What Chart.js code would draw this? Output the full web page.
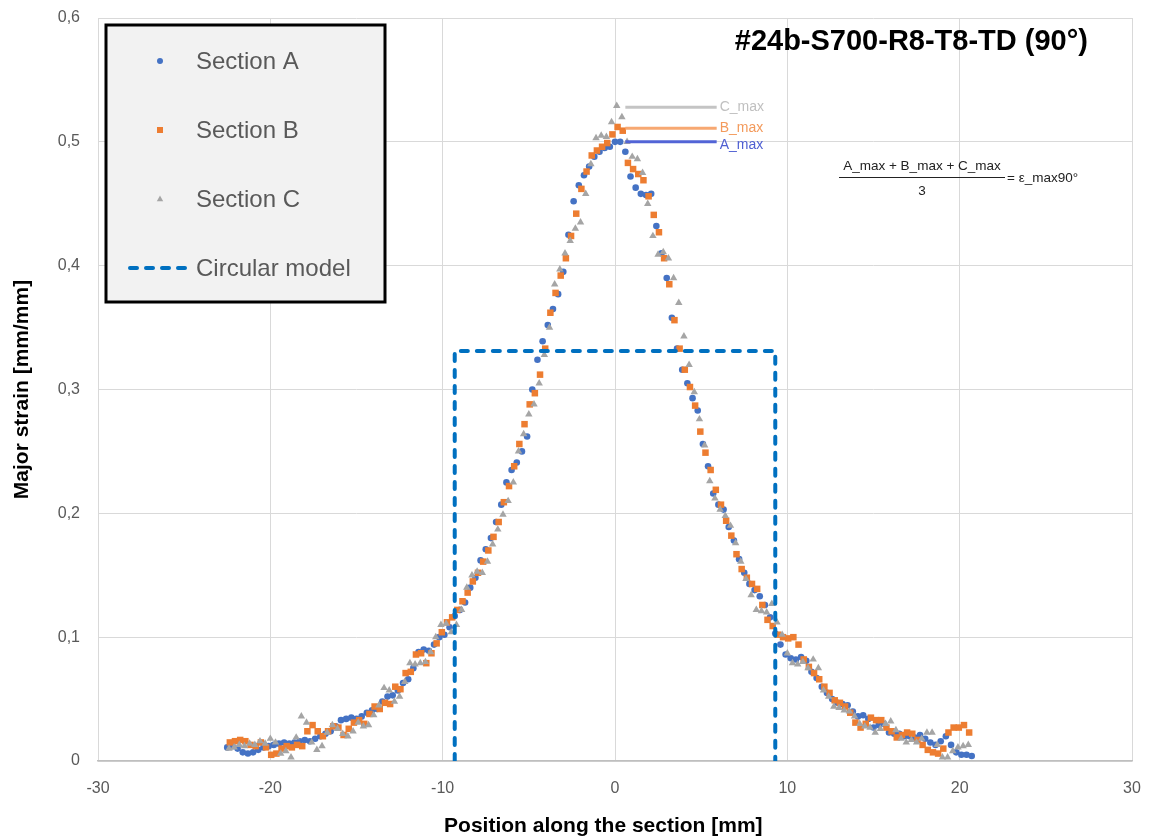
<!DOCTYPE html>
<html><head><meta charset="utf-8">
<script src="https://cdn.jsdelivr.net/npm/chart.js@4.4.1/dist/chart.umd.min.js"></script>
<style>html,body{margin:0;padding:0;background:#fff;}#wrap{width:1155px;height:839px;position:relative;}</style>
</head><body><div id="wrap"><canvas id="c"></canvas></div>
<script>
const chartTitle = '#24b-S700-R8-T8-TD (90°)';
const xTitle = 'Position along the section [mm]';
const yTitle = 'Major strain [mm/mm]';
const seriesNames = ['Section A', 'Section B', 'Section C', 'Circular model'];
const xTickValues = [-30, -20, -10, 0, 10, 20, 30];
const yTickValues = [0, 0.1, 0.2, 0.3, 0.4, 0.5, 0.6];

const posA = [-22.5,-22.2,-21.9,-21.6,-21.3,-21.0,-20.7,-20.4,-20.1,-19.8,-19.5,-19.2,-18.9,-18.6,-18.3,-18.0,-17.7,-17.4,-17.1,-16.8,-16.5,-16.2,-15.9,-15.6,-15.3,-15.0,-14.7,-14.4,-14.1,-13.8,-13.5,-13.2,-12.9,-12.6,-12.3,-12.0,-11.7,-11.4,-11.1,-10.8,-10.5,-10.2,
-9.9,-9.6,-9.3,-9.0,-8.7,-8.4,-8.1,-7.8,-7.5,-7.2,-6.9,-6.6,-6.3,-6.0,-5.7,-5.4,-5.1,-4.8,-4.5,-4.2,-3.9,-3.6,-3.3,-3.0,-2.7,-2.4,-2.1,-1.8,-1.5,-1.2,-0.9,-0.6,-0.3,0.0,
0.3,0.6,0.9,1.2,1.5,1.8,2.1,2.4,2.7,3.0,3.3,3.6,3.9,4.2,4.5,4.8,5.1,5.4,5.7,6.0,6.3,6.6,6.9,7.2,7.5,7.8,8.1,8.4,8.7,9.0,9.3,9.6,9.9,10.2,
10.5,10.8,11.1,11.4,11.7,12.0,12.3,12.6,12.9,13.2,13.5,13.8,14.1,14.4,14.7,15.0,15.3,15.6,15.9,16.2,16.5,16.8,17.1,17.4,17.7,18.0,18.3,18.6,18.9,19.2,19.5,19.8,20.1,20.4,20.7];
const strainA = [0.011,0.012,0.010,0.007,0.006,0.007,0.009,0.011,0.012,0.013,0.014,0.015,0.014,0.015,0.016,0.017,0.016,0.018,0.020,0.022,0.024,0.028,0.033,0.034,0.035,0.034,0.036,0.039,0.041,0.042,0.048,0.052,0.053,0.057,0.063,0.066,0.075,0.088,0.090,0.089,0.094,0.100,
0.102,0.108,0.117,0.122,0.128,0.140,0.148,0.162,0.171,0.180,0.193,0.207,0.225,0.235,0.241,0.250,0.262,0.300,0.324,0.339,0.352,0.365,0.377,0.395,0.425,0.452,0.465,0.473,0.480,0.488,0.492,0.495,0.496,0.500,
0.500,0.492,0.472,0.463,0.458,0.457,0.458,0.432,0.410,0.390,0.358,0.333,0.316,0.305,0.293,0.283,0.256,0.238,0.216,0.207,0.203,0.189,0.178,0.163,0.152,0.143,0.138,0.133,0.126,0.116,0.103,0.094,0.086,0.083,
0.082,0.084,0.081,0.072,0.067,0.060,0.055,0.050,0.047,0.046,0.045,0.040,0.036,0.037,0.034,0.027,0.029,0.030,0.023,0.022,0.022,0.020,0.020,0.019,0.021,0.018,0.015,0.013,0.016,0.020,0.013,0.007,0.005,0.005,0.004];

const posB = [-22.35,-22.05,-21.75,-21.45,-21.15,-20.85,-20.55,-20.25,-19.95,-19.65,-19.35,-19.05,-18.75,-18.45,-18.15,-17.85,-17.55,-17.25,-16.95,-16.65,-16.35,-16.05,-15.75,-15.45,-15.15,-14.85,-14.55,-14.25,-13.95,-13.65,-13.35,-13.05,-12.75,-12.45,-12.15,-11.85,-11.55,-11.25,-10.95,-10.65,-10.35,
-10.05,-9.75,-9.45,-9.15,-8.85,-8.55,-8.25,-7.95,-7.65,-7.35,-7.05,-6.75,-6.45,-6.15,-5.85,-5.55,-5.25,-4.95,-4.65,-4.35,-4.05,-3.75,-3.45,-3.15,-2.85,-2.55,-2.25,-1.95,-1.65,-1.35,-1.05,-0.75,-0.45,-0.15,0.15,
0.45,0.75,1.05,1.35,1.65,1.95,2.25,2.55,2.85,3.15,3.45,3.75,4.05,4.35,4.65,4.95,5.25,5.55,5.85,6.15,6.45,6.75,7.05,7.35,7.65,7.95,8.25,8.55,8.85,9.15,9.45,9.75,10.05,10.35,
10.65,10.95,11.25,11.55,11.85,12.15,12.45,12.75,13.05,13.35,13.65,13.95,14.25,14.55,14.85,15.15,15.45,15.75,16.05,16.35,16.65,16.95,17.25,17.55,17.85,18.15,18.45,18.75,19.05,19.35,19.65,19.95,20.25,20.55];
const strainB = [0.015,0.016,0.017,0.016,0.013,0.012,0.015,0.011,0.005,0.006,0.010,0.012,0.011,0.013,0.012,0.024,0.029,0.024,0.020,0.024,0.028,0.027,0.021,0.026,0.031,0.033,0.030,0.038,0.044,0.042,0.047,0.046,0.060,0.058,0.071,0.072,0.086,0.087,0.079,0.087,0.095,
0.104,0.112,0.116,0.122,0.129,0.136,0.145,0.152,0.161,0.170,0.181,0.193,0.209,0.222,0.238,0.256,0.272,0.288,0.297,0.312,0.333,0.362,0.378,0.392,0.406,0.424,0.442,0.462,0.476,0.489,0.493,0.496,0.499,0.506,0.512,
0.509,0.483,0.478,0.474,0.469,0.456,0.441,0.427,0.406,0.385,0.356,0.333,0.316,0.302,0.287,0.266,0.249,0.235,0.219,0.207,0.194,0.182,0.167,0.155,0.148,0.143,0.139,0.126,0.114,0.109,0.102,0.100,0.099,0.100,
0.094,0.082,0.076,0.071,0.066,0.060,0.055,0.049,0.047,0.044,0.039,0.031,0.027,0.030,0.035,0.033,0.033,0.027,0.024,0.019,0.021,0.023,0.022,0.017,0.013,0.009,0.007,0.006,0.010,0.023,0.027,0.027,0.029,0.023];

const posC = [-22.4,-22.1,-21.8,-21.5,-21.2,-20.9,-20.6,-20.3,-20.0,-19.7,-19.4,-19.1,-18.8,-18.5,-18.2,-17.9,-17.6,-17.3,-17.0,-16.7,-16.4,-16.1,-15.8,-15.5,-15.2,-14.9,-14.6,-14.3,-14.0,-13.7,-13.4,-13.1,-12.8,-12.5,-12.2,-11.9,-11.6,-11.3,-11.0,-10.7,-10.4,-10.1,
-9.8,-9.5,-9.2,-8.9,-8.6,-8.3,-8.0,-7.7,-7.4,-7.1,-6.8,-6.5,-6.2,-5.9,-5.6,-5.3,-5.0,-4.7,-4.4,-4.1,-3.8,-3.5,-3.2,-2.9,-2.6,-2.3,-2.0,-1.7,-1.4,-1.1,-0.8,-0.5,-0.2,0.1,
0.4,0.7,1.0,1.3,1.6,1.9,2.2,2.5,2.8,3.1,3.4,3.7,4.0,4.3,4.6,4.9,5.2,5.5,5.8,6.1,6.4,6.7,7.0,7.3,7.6,7.9,8.2,8.5,8.8,9.1,9.4,9.7,10.0,10.3,
10.6,10.9,11.2,11.5,11.8,12.1,12.4,12.7,13.0,13.3,13.6,13.9,14.2,14.5,14.8,15.1,15.4,15.7,16.0,16.3,16.6,16.9,17.2,17.5,17.8,18.1,18.4,18.7,19.0,19.3,19.6,19.9,20.2,20.5];
const strainC = [0.010,0.011,0.013,0.012,0.014,0.013,0.016,0.014,0.018,0.015,0.006,0.008,0.003,0.019,0.036,0.031,0.015,0.009,0.012,0.023,0.029,0.026,0.022,0.020,0.024,0.031,0.028,0.029,0.037,0.045,0.059,0.057,0.048,0.052,0.064,0.079,0.078,0.079,0.080,0.088,0.100,0.110,
0.111,0.104,0.110,0.122,0.140,0.150,0.153,0.152,0.161,0.175,0.187,0.199,0.210,0.225,0.250,0.264,0.280,0.288,0.305,0.328,0.350,0.385,0.397,0.410,0.420,0.430,0.435,0.458,0.482,0.503,0.505,0.504,0.516,0.529,
0.520,0.500,0.488,0.486,0.475,0.450,0.424,0.409,0.411,0.406,0.390,0.370,0.343,0.320,0.298,0.276,0.255,0.226,0.212,0.203,0.198,0.190,0.176,0.161,0.147,0.134,0.122,0.121,0.120,0.127,0.112,0.102,0.087,0.079,
0.078,0.080,0.075,0.082,0.075,0.057,0.052,0.044,0.043,0.041,0.040,0.036,0.030,0.028,0.027,0.023,0.026,0.030,0.032,0.025,0.018,0.015,0.017,0.015,0.018,0.023,0.023,0.013,0.003,0.003,0.008,0.011,0.012,0.013];

const modelX = [-9.3, -9.3, 9.3, 9.3];
const modelY = [0, 0.331, 0.331, 0];

const maxNames = ['A_max', 'B_max', 'C_max'];
const maxValues = [0.500, 0.511, 0.528];
const maxLineX = [0.6, 5.9];

const formulaTop = 'A_max + B_max + C_max';
const formulaBottom = '3';
const formulaRight = '= ε_max90°';

const colA = '#4472c4', colB = '#ed7d31', colC = '#a5a5a5', colModel = '#0070c0';
const maxColors = ['#5264d6', '#f7a872', '#c4c4c4'];
const maxTextColors = ['#4f5fd2', '#f39a5c', '#c0c0c0'];
const FONT = '"Liberation Sans", Arial, sans-serif';

const zip = (xs, ys) => xs.map((x, i) => ({x, y: ys[i]}));

const datasets = [
  {label: seriesNames[0], data: zip(posA, strainA), pointStyle: 'circle', pointRadius: 3.3, pointBorderWidth: 0, backgroundColor: colA, borderColor: colA, order: 5},
  {label: seriesNames[1], data: zip(posB, strainB), pointStyle: 'rect', pointRadius: 4.6, pointBorderWidth: 0, backgroundColor: colB, borderColor: colB, order: 4},
  {label: seriesNames[2], data: zip(posC, strainC), pointStyle: 'triangle', pointRadius: 4.3, pointBorderWidth: 0, backgroundColor: colC, borderColor: colC, order: 3},
  {label: seriesNames[3], data: zip(modelX, modelY), showLine: true, pointRadius: 0, borderColor: colModel, borderWidth: 4, borderDash: [7, 9], borderCapStyle: 'round', borderJoinStyle: 'round', order: 0},
];
maxNames.forEach((n, i) => {
  datasets.push({label: n, data: maxLineX.map(x => ({x, y: maxValues[i]})), showLine: true, pointRadius: 0, borderColor: maxColors[i], borderWidth: 3, order: 1});
});

const overlay = {
  id: 'overlay',
  afterDraw(chart) {
    const {ctx, chartArea: ca} = chart;
    const xs = chart.scales.x, ys = chart.scales.y;
    ctx.save();
    // title
    ctx.font = 'bold 29px ' + FONT;
    ctx.fillStyle = '#000';
    ctx.textAlign = 'right';
    ctx.textBaseline = 'middle';
    ctx.fillText(chartTitle, ca.right - 44, ca.top + 24);

    // max labels
    ctx.font = '14px ' + FONT;
    ctx.textAlign = 'left';
    maxNames.forEach((n, i) => {
      const px = xs.getPixelForValue(maxLineX[1]) + 3;
      const py = ys.getPixelForValue(maxValues[i]) + (i === 0 ? 3 : 0);
      ctx.fillStyle = maxTextColors[i];
      ctx.fillText(n, px, py);
    });

    // formula
    const fx = ca.left + 824, fy = ca.top + 159;
    ctx.fillStyle = '#222';
    ctx.font = '13.5px ' + FONT;
    ctx.textAlign = 'center';
    ctx.fillText(formulaTop, fx, fy - 11);
    ctx.fillText(formulaBottom, fx, fy + 14);
    ctx.strokeStyle = '#222';
    ctx.lineWidth = 1;
    ctx.beginPath();
    ctx.moveTo(fx - 83, fy + 0.5);
    ctx.lineTo(fx + 83, fy + 0.5);
    ctx.stroke();
    ctx.textAlign = 'left';
    ctx.fillText(formulaRight, fx + 85, fy + 1);

    // legend box
    const lx = ca.left + 8, ly = ca.top + 7, lw = 279, lh = 277;
    ctx.fillStyle = '#f2f2f2';
    ctx.fillRect(lx, ly, lw, lh);
    ctx.strokeStyle = '#000';
    ctx.lineWidth = 3;
    ctx.strokeRect(lx, ly, lw, lh);
    const rowY = [ly + 36, ly + 105, ly + 174, ly + 243];
    const mx = lx + 54, tx = lx + 90;
    ctx.font = '24px ' + FONT;
    ctx.textAlign = 'left';
    ctx.textBaseline = 'middle';
    ctx.fillStyle = colA;
    ctx.beginPath(); ctx.arc(mx, rowY[0], 3, 0, Math.PI * 2); ctx.fill();
    ctx.fillStyle = colB;
    ctx.fillRect(mx - 3, rowY[1] - 3, 6, 6);
    ctx.fillStyle = colC;
    ctx.beginPath();
    ctx.moveTo(mx, rowY[2] - 3.5); ctx.lineTo(mx + 3.2, rowY[2] + 2.2); ctx.lineTo(mx - 3.2, rowY[2] + 2.2); ctx.closePath(); ctx.fill();
    ctx.strokeStyle = colModel;
    ctx.lineWidth = 4;
    ctx.lineCap = 'round';
    ctx.setLineDash([7, 9]);
    ctx.beginPath(); ctx.moveTo(lx + 24, rowY[3]); ctx.lineTo(lx + 86, rowY[3]); ctx.stroke();
    ctx.setLineDash([]);
    ctx.fillStyle = '#595959';
    seriesNames.forEach((n, i) => ctx.fillText(n, tx, rowY[i] + 1));
    ctx.restore();
  }
};

new Chart(document.getElementById('c'), {
  type: 'scatter',
  data: {datasets},
  options: {
    responsive: true,
    maintainAspectRatio: false,
    animation: false,
    layout: {padding: {top: 18, right: 23, bottom: 0, left: 0}},
    plugins: {legend: {display: false}, tooltip: {enabled: false}, title: {display: false}},
    scales: {
      x: {
        type: 'linear', min: -30, max: 30,
        afterBuildTicks: s => { s.ticks = xTickValues.map(v => ({value: v})); },
        afterFit: s => { s.height = 78; },
        grid: {color: '#d9d9d9', lineWidth: 1, drawTicks: true, tickLength: 15, tickColor: 'rgba(0,0,0,0)'},
        border: {color: '#bfbfbf', width: 1.5},
        ticks: {padding: 3, color: '#595959', font: {family: FONT, size: 16}, callback: v => String(v)},
        title: {display: true, text: xTitle + '    ', color: '#000', font: {family: FONT, size: 21, weight: 'bold'}, padding: {top: 0, bottom: 0}}
      },
      y: {
        type: 'linear', min: 0, max: 0.6,
        afterBuildTicks: s => { s.ticks = yTickValues.map(v => ({value: v})); },
        afterFit: s => { s.width = 98; },
        grid: {color: '#d9d9d9', lineWidth: 1, drawTicks: true, tickLength: 15, tickColor: 'rgba(0,0,0,0)'},
        border: {display: false},
        ticks: {padding: 3, color: '#595959', font: {family: FONT, size: 16}, callback: v => v === 0 ? '0' : v.toFixed(1).replace('.', ',')},
        title: {display: true, text: yTitle, color: '#000', font: {family: FONT, size: 21, weight: 'bold'}, padding: {top: 10, bottom: 0}}
      }
    }
  },
  plugins: [overlay]
});
</script>
</body></html>
